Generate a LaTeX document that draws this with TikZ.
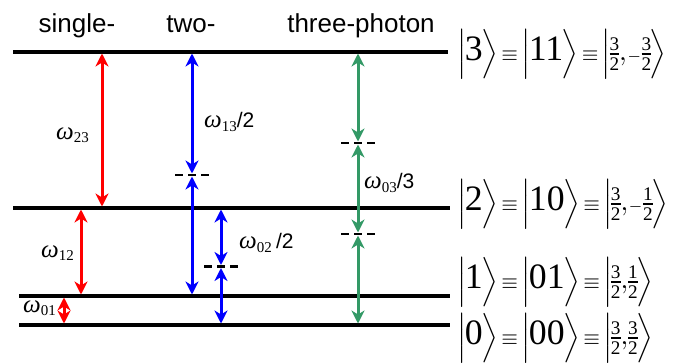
\documentclass[tikz,border=0pt]{standalone}
\usepackage{amsmath}
\usepackage{graphicx}
\usepackage{fontspec}
\setmainfont{Liberation Serif}
\setsansfont{Liberation Sans}
\setmathrm{Liberation Serif}
\DeclareMathSizes{10}{10}{7}{5}
\usetikzlibrary{arrows.meta, positioning}
\definecolor{cred}{HTML}{FF0000}
\definecolor{cblue}{HTML}{0000FF}
\definecolor{cgreen}{HTML}{339966}
\tikzset{
  level/.style={line width=3.4pt, draw=black},
  trans/.style={{Stealth[length=13pt, width=13pt, inset=4pt]}-{Stealth[length=13pt, width=13pt, inset=4pt]},
    line width=3pt, draw=#1, shorten <=1.5pt, shorten >=1.5pt},
  virt/.style={line width=2.2pt, dash pattern=on 8pt off 5pt},
  title/.style={font=\sffamily\fontsize{26}{28}\selectfont, anchor=base},
  freq/.style={font=\fontsize{25}{26}\selectfont, inner sep=0pt, anchor=west},
  ket/.style={inner sep=0pt, anchor=west},
}
\newcommand{\om}[1]{\textit{ω}\raisebox{-0.3ex}{\fontsize{15}{15}\selectfont #1}}
\newcommand{\by}[1]{\textsf{\fontsize{21}{21}\selectfont /#1}}
\newcommand{\kt}[1]{\left|\vrule height 10pt depth 5pt width 0pt\mkern-1mu#1\mkern-1mu\right\rangle}
\newcommand{\dg}[1]{\text{\fontsize{13}{13}\selectfont #1}}
\newcommand{\hf}[1]{\tfrac{\mathrm{#1}}{\mathrm{2}}}
\newcommand{\eqv}{\mathord{\mkern-1mu{\scriptstyle\equiv}\mkern-1mu}}
\newcommand{\mn}{{\scriptscriptstyle -}}
\newcommand{\cm}{\mathord{,}}
\newcommand{\row}[1]{\scalebox{2.75}{\nulldelimiterspace=0pt $#1$}}

\begin{document}
\begin{tikzpicture}[x=1pt, y=-1pt]
  \useasboundingbox (0,0) rectangle (686,364);
  % energy levels
  \coordinate (L3) at (13,52);
  \coordinate (L2) at (13,208);
  \coordinate (L1) at (19,296);
  \coordinate (L0) at (19,325);
  \draw[level] (L3) -- ++(435,0);
  \draw[level] (L2) -- ++(437,0);
  \draw[level] (L1) -- ++(431,0);
  \draw[level] (L0) -- ++(431,0);
  % columns of the transitions
  \coordinate (c23) at (102,0);
  \coordinate (c12) at (81,0);
  \coordinate (c01) at (64,0);
  \coordinate (c13) at (192,0);
  \coordinate (c02) at (221,0);
  \coordinate (c03) at (358,0);
  % virtual levels
  \coordinate (v13) at (192,175);
  \coordinate (v02) at (221,266.5);
  \coordinate (v03a) at (358,143);
  \coordinate (v03b) at (358,234);
  \foreach \v in {v13,v02,v03a,v03b}
    \draw[virt] ([xshift=-17]\v) -- ([xshift=17]\v);
  % titles
  \node[title] (tone) at (77,32) {single-};
  \node[title] (ttwo) at (191,32) {two-};
  \node[title] (tthree) at (361,32) {three-photon};
  % single-photon
  \draw[trans=cred] (c23 |- L3) -- (c23 |- L2);
  \draw[trans=cred] (c12 |- L2) -- (c12 |- L1);
  \draw[trans=cred] (c01 |- L1) -- (c01 |- L0);
  % two-photon
  \draw[trans=cblue] (c13 |- L3) -- (v13);
  \draw[trans=cblue] (v13) -- (c13 |- L1);
  \draw[trans=cblue] (c02 |- L2) -- (v02);
  \draw[trans=cblue] (v02) -- (c02 |- L0);
  % three-photon
  \draw[trans=cgreen] (c03 |- L3) -- (v03a);
  \draw[trans=cgreen] (v03a) -- (v03b);
  \draw[trans=cgreen] (v03b) -- (c03 |- L0);
  % frequencies
  \node[freq] (w23) at (56,135) {\om{23}};
  \node[freq] (w12) at (41,253) {\om{12}};
  \node[freq] (w01) at (23,308) {\om{01}};
  \node[freq] (w13) at (204,122) {\om{13}\by{2}};
  \node[freq] (w02) at (239,243) {\om{02}\,\by{2}};
  \node[freq] (w03) at (364,183) {\om{03}\by{3}};
  % states
  \node[ket] (k3) at (457,54) {\row{\kt{\dg{3}}\eqv\kt{\dg{11}}\eqv\kt{\hf{3}\cm\mn\hf{3}}}};
  \node[ket] (k2) at (457,204) {\row{\kt{\dg{2}}\eqv\kt{\dg{10}}\eqv\kt{\hf{3}\cm\mn\hf{1}}}};
  \node[ket] (k1) at (457,282) {\row{\kt{\dg{1}}\eqv\kt{\dg{01}}\eqv\kt{\hf{3}\cm\hf{1}}}};
  \node[ket] (k0) at (457,338) {\row{\kt{\dg{0}}\eqv\kt{\dg{00}}\eqv\kt{\hf{3}\cm\hf{3}}}};
\end{tikzpicture}
\end{document}
